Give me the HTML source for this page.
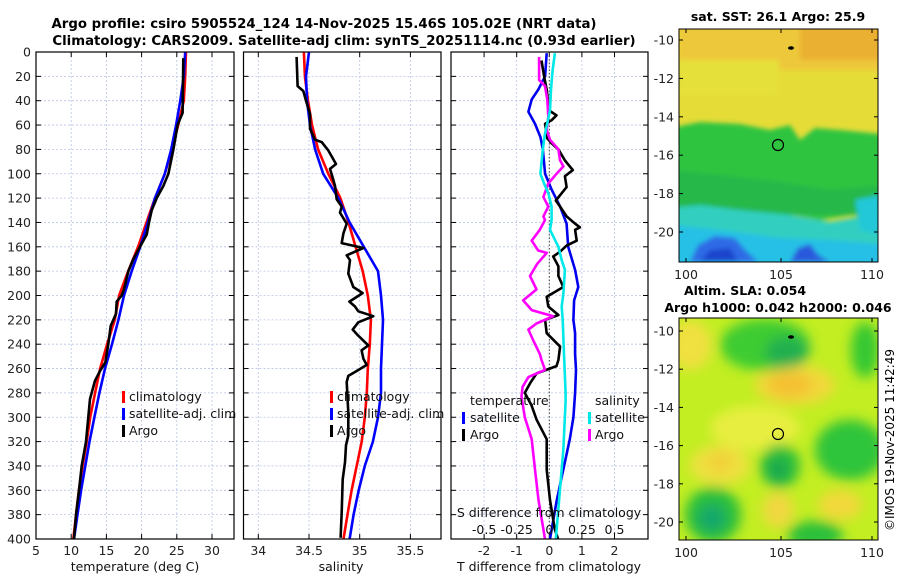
<!DOCTYPE html>
<html><head><meta charset="utf-8">
<style>
html,body{margin:0;padding:0;background:#fff;}
svg{display:block;font-family:"DejaVu Sans","Liberation Sans",sans-serif;}
</style></head>
<body>
<svg id="fig" width="900" height="580" viewBox="0 0 900 580" xmlns="http://www.w3.org/2000/svg">
<defs>
<filter id="blur6" x="-20%" y="-20%" width="140%" height="140%"><feGaussianBlur stdDeviation="6"/></filter>
<filter id="blur3" x="-20%" y="-20%" width="140%" height="140%"><feGaussianBlur stdDeviation="2.5"/></filter>
<clipPath id="clipTop"><rect x="679" y="29" width="199" height="233"/></clipPath>
<clipPath id="clipBot"><rect x="679" y="318" width="199" height="222"/></clipPath>
</defs>
<text x="324" y="28" text-anchor="middle" font-size="13.3" font-weight="bold">Argo profile: csiro 5905524_124 14-Nov-2025 15.46S 105.02E (NRT data)</text>
<text x="344" y="45" text-anchor="middle" font-size="13.3" font-weight="bold">Climatology: CARS2009. Satellite-adj clim: synTS_20251114.nc (0.93d earlier)</text>
<g id="plots"></g>
<g id="maps">
 <g clip-path="url(#clipTop)">
  <rect x="679" y="29" width="199" height="233" fill="#e6dc38"/>
  <g filter="url(#blur3)">
   <rect x="679" y="20" width="210" height="50" fill="#eec83a"/>
   <rect x="800" y="20" width="90" height="40" fill="#eab030"/>
   <rect x="679" y="60" width="100" height="35" fill="#e6e03a"/>
   <polygon points="670,128 700,122 740,124 770,130 790,125 800,140 815,128 840,130 890,135 890,205 870,212 820,220 780,212 740,205 670,200" fill="#2ec440"/>
   <polygon points="670,170 720,175 780,182 830,190 890,185 890,215 670,215" fill="#28b848"/>
   <polygon points="670,208 700,205 740,210 790,215 830,222 870,215 890,208 890,270 670,270" fill="#30cfc0"/>
   <polygon points="670,225 720,230 780,238 830,240 890,245 890,270 670,270" fill="#26c0e6"/>
   <polygon points="690,262 698,245 715,236 735,238 745,250 758,262" fill="#2d6ae6"/>
   <polygon points="700,262 710,250 730,248 738,262" fill="#1a44cc"/>
   <polygon points="790,262 798,248 810,244 818,255 830,262" fill="#2a58dc"/>
   <polygon points="855,200 880,195 880,235 860,230" fill="#22c8d8"/>
  </g>
  <ellipse cx="791" cy="48" rx="3" ry="1.8" fill="#000"/>
  <circle cx="778" cy="145" r="5.5" fill="none" stroke="#000" stroke-width="1.2"/>
 </g>
 <rect x="679" y="29" width="199" height="233" fill="none" stroke="#000" stroke-width="1"/>
 <g clip-path="url(#clipBot)">
  <rect x="679" y="318" width="199" height="222" fill="#c2ee22"/>
  <g filter="url(#blur6)">
   <ellipse cx="690" cy="345" rx="22" ry="25" fill="#f0e040"/>
   <ellipse cx="795" cy="385" rx="40" ry="20" fill="#f2d83a"/>
   <ellipse cx="790" cy="385" rx="22" ry="12" fill="#f4c030"/>
   <ellipse cx="755" cy="428" rx="45" ry="22" fill="#e8ee40"/>
   <ellipse cx="720" cy="465" rx="30" ry="20" fill="#eee040"/>
   <ellipse cx="720" cy="462" rx="12" ry="10" fill="#f2d038"/>
   <ellipse cx="778" cy="510" rx="16" ry="18" fill="#f0d840"/>
   <ellipse cx="840" cy="505" rx="22" ry="15" fill="#f2d83a"/>
   <ellipse cx="765" cy="345" rx="45" ry="26" fill="#3ccc30"/>
   <ellipse cx="787" cy="352" rx="22" ry="16" fill="#20b050"/>
   <ellipse cx="865" cy="350" rx="14" ry="28" fill="#36c832"/>
   <ellipse cx="850" cy="450" rx="35" ry="30" fill="#2fc43a"/>
   <ellipse cx="780" cy="466" rx="20" ry="22" fill="#2cbf3a"/>
   <ellipse cx="778" cy="470" rx="10" ry="12" fill="#1ea850"/>
   <ellipse cx="713" cy="515" rx="28" ry="28" fill="#2cbf3a"/>
   <ellipse cx="712" cy="518" rx="14" ry="14" fill="#18a86a"/>
   <ellipse cx="815" cy="535" rx="28" ry="14" fill="#2cbf3a"/>
  </g>
  <ellipse cx="791" cy="337" rx="3" ry="1.8" fill="#000"/>
  <circle cx="778" cy="434" r="5.5" fill="none" stroke="#000" stroke-width="1.2"/>
 </g>
 <rect x="679" y="318" width="199" height="222" fill="none" stroke="#000" stroke-width="1"/>
 <text x="778" y="21" text-anchor="middle" font-size="12.5" font-weight="bold">sat. SST: 26.1 Argo: 25.9</text>
 <text x="745" y="295" text-anchor="middle" font-size="12.5" font-weight="bold">Altim. SLA: 0.054</text>
 <text x="778" y="312" text-anchor="middle" font-size="12.5" font-weight="bold">Argo h1000: 0.042 h2000: 0.046</text>
 <text transform="translate(894,440) rotate(-90)" text-anchor="middle" font-size="12">©IMOS 19-Nov-2025 11:42:49</text>
</g>
</svg>
<script>
// ---- Temperature panel data ----
const climDepth = [0,20,40,60,80,100,120,140,160,180,200,220,240,260,280,300,320,340,360,380,400];
const tempClim = [26.3,26.2,26.0,25.2,24.3,23.3,21.9,20.7,19.5,18.1,16.8,16.2,15.1,14.1,13.4,12.7,12.2,11.6,11.1,10.7,10.3];
const tempSat  = [26.2,26.0,25.5,24.9,24.2,23.3,21.9,20.9,19.8,18.6,17.5,16.7,15.8,14.8,14.0,13.3,12.6,12.0,11.4,10.9,10.4];
const argoTDepth = [5,50,55,60,80,100,110,120,130,140,150,160,170,180,195,200,205,215,225,240,255,262,270,285,300,320,340,360,380,400];
const tempArgo   = [25.93,25.83,25.45,25.12,24.51,23.80,23.09,22.14,21.43,21.05,20.72,19.77,18.83,18.12,17.50,17.17,16.46,16.36,15.61,15.27,14.85,14.09,13.38,12.67,12.43,12.10,11.49,11.11,10.68,10.40];
const tempTicks = [5,10,15,20,25,30];
// ---- Salinity panel data ----
const salClim = [34.45,34.46,34.49,34.53,34.59,34.69,34.81,34.89,34.96,35.03,35.08,35.11,35.10,35.08,35.07,35.05,35.02,34.97,34.92,34.88,34.84];
const salSat  = [34.50,34.47,34.48,34.51,34.56,34.64,34.79,34.90,35.04,35.18,35.21,35.23,35.22,35.21,35.21,35.18,35.13,35.05,34.99,34.94,34.90];
const argoSDepth = [4,28,32,40,51,63,72,74,81,92,96,105,110,121,127,132,141,149,157,161,167,171,182,193,198,205,209,213,217,222,228,233,241,245,252,257,262,266,271,296,315,323,337,351,378,399];
const salArgo    = [34.378,34.388,34.444,34.470,34.510,34.510,34.559,34.625,34.691,34.766,34.707,34.740,34.756,34.773,34.822,34.806,34.872,34.839,34.822,35.036,34.872,34.904,34.888,34.937,35.029,34.898,34.954,34.986,35.134,34.986,34.931,34.986,35.085,35.019,35.036,35.069,34.970,34.888,34.872,34.888,34.888,34.865,34.855,34.832,34.822,34.812];
const salTicks = [34,34.5,35,35.5];
// ---- Difference panel data ----
const diffTicks = [-2,-1,0,1,2];
const sDiffTickLabels = ["-0.5","-0.25","0","0.25","0.5"];
const satTDepth = [1,20,31,39,49,59,70,80,100,113,127,141,160,179,193,204,220,231,248,261,280,300,318,343,368,400];
const satTDiff  = [-0.08,-0.13,-0.34,-0.54,-0.64,-0.44,-0.27,-0.20,-0.13,0.07,0.33,0.53,0.58,0.79,0.89,0.76,0.74,0.79,0.79,0.82,0.79,0.74,0.63,0.43,0.23,0.02];
const satSDepth = [1,15,31,48,67,80,100,108,116,127,138,146,160,171,179,198,209,220,248,280,287,327,368,400];
const satSDiff  = [0.043,0.025,0.013,0.005,-0.033,-0.050,-0.068,-0.040,-0.008,0.018,0.018,0.005,0.070,0.095,0.120,0.108,0.095,0.103,0.113,0.125,0.125,0.107,0.075,0.050];
const argoDTDepth = [7,20,31,48,52,56,59,71,75,80,89,97,102,111,116,122,127,135,141,144,146,155,159,164,168,176,184,193,201,209,216,220,231,242,253,258,264,272,280,290,302,318,343,368,392,400];
const argoTDiff   = [-0.24,-0.16,-0.08,-0.01,0.22,0.07,-0.13,-0.06,0.07,0.28,0.48,0.72,0.48,0.53,0.38,0.20,0.33,0.53,0.79,0.94,0.79,0.84,0.53,0.33,0.12,0.28,0.28,0.43,-0.08,-0.03,0.28,-0.13,-0.08,0.33,0.28,0.22,-0.39,-0.59,-0.75,-0.55,-0.39,-0.08,-0.08,0.02,0.17,0.27];
const argoDSDepth = [4,23,28,39,53,64,72,80,89,94,100,108,119,127,135,138,146,155,163,165,174,184,195,204,212,217,223,228,237,248,253,261,267,275,283,300,318,343,368,400];
const argoSDiff   = [-0.078,-0.078,-0.033,-0.015,-0.008,-0.020,0.005,0.070,0.083,0.108,0.055,-0.008,-0.045,-0.008,-0.045,-0.033,-0.073,-0.135,-0.085,-0.020,-0.093,-0.148,-0.098,-0.200,-0.135,0.030,-0.098,-0.160,-0.123,-0.073,-0.060,-0.033,-0.160,-0.205,-0.213,-0.188,-0.135,-0.110,-0.083,-0.033];
const depthTicks = [0,20,40,60,80,100,120,140,160,180,200,220,240,260,280,300,320,340,360,380,400];

const NS = "http://www.w3.org/2000/svg";
const root = document.getElementById('plots');
const Y0 = 52, Y1 = 539;
function yS(d){ return Y0 + d*(Y1-Y0)/400; }
function mk(tag, attrs, parent){
  const e = document.createElementNS(NS, tag);
  for (const k in attrs) e.setAttribute(k, attrs[k]);
  (parent||root).appendChild(e);
  return e;
}
function linScale(x0,x1,v0,v1){ return v => x0 + (v-v0)*(x1-x0)/(v1-v0); }

function drawPanel(name, x0, x1, xs, ticks, tickLabels, showYLabels){
  const g = mk('g', {});
  
  
  depthTicks.forEach(d => {
    const l = mk('line', {x1:x0, x2:x1, y1:yS(d), y2:yS(d), stroke:'#b8c4e4', 'stroke-width':0.8, 'stroke-dasharray':'2,2'}, g);
    
    
    mk('line', {x1:x0, x2:x0+5, y1:yS(d), y2:yS(d), stroke:'#000'}, g);
    mk('line', {x1:x1-5, x2:x1, y1:yS(d), y2:yS(d), stroke:'#000'}, g);
    if (showYLabels){
      const t = mk('text', {x:x0-5, y:yS(d)+4.5, 'text-anchor':'end', 'font-size':12.5, fill:'#222'}, g);
      t.textContent = d;
      
      
    }
  });
  ticks.forEach((v,i) => {
    const x = xs(v);
    const l = mk('line', {x1:x, x2:x, y1:Y0, y2:Y1, stroke:'#b8c4e4', 'stroke-width':0.8, 'stroke-dasharray':'2,2'}, g);
    
    
    mk('line', {x1:x, x2:x, y1:Y1-5, y2:Y1, stroke:'#000'}, g);
    mk('line', {x1:x, x2:x, y1:Y0, y2:Y0+5, stroke:'#000'}, g);
    const t = mk('text', {x:x, y:555, 'text-anchor':'middle', 'font-size':12.5, fill:'#222'}, g);
    t.textContent = tickLabels[i];
    
    
  });
  return g;
}
function line(g, name, xs, vals, depths, color, w){
  const pts = vals.map((v,i) => xs(v).toFixed(1) + ',' + yS(depths[i]).toFixed(1)).join(' ');
  const p = mk('polyline', {points:pts, fill:'none', stroke:color, 'stroke-width':w||2.6, 'stroke-linejoin':'round'}, g);
  
  
}
function border(g, x0, x1){
  mk('rect', {x:x0, y:Y0, width:x1-x0, height:Y1-Y0, fill:'none', stroke:'#000', 'stroke-width':1.2}, g);
}
function label(g, name, x, y, txt, anchor, size){
  const t = mk('text', {x:x, y:y, 'text-anchor':anchor||'start', 'font-size':size||12.5, fill:'#111'}, g);
  t.textContent = txt;
  
  
}
function marker(g, name, x, y, color){
  const r = mk('rect', {x:x, y:y-6, width:3, height:12, fill:color}, g);
  
  
}

// Panel 1: temperature
const xT = linScale(36, 234, 5, 5 + 198/7.04);
const g1 = drawPanel('temperature', 36, 234, xT, tempTicks, tempTicks, true);
line(g1, 'temp-climatology-line', xT, tempClim, climDepth, '#ff0000');
line(g1, 'temp-satellite-line', xT, tempSat, climDepth, '#0000ff');
line(g1, 'temp-argo-line', xT, tempArgo, argoTDepth, '#000000');
border(g1, 36, 234);
label(g1, 'temp-x-axis-title', 135, 571, 'temperature (deg C)', 'middle');
[['climatology','#ff0000',401],['satellite-adj. clim','#0000ff',418],['Argo','#000',435]].forEach(a => {
  marker(g1, 'legend-marker', 122, a[2]-4, a[1]);
  label(g1, 'legend-entry', 129, a[2], a[0]);
});

// Panel 2: salinity
const xSal = linScale(258.3, 359.7, 34, 35);
const g2 = drawPanel('salinity', 243.5, 441, xSal, salTicks, salTicks, false);
line(g2, 'sal-climatology-line', xSal, salClim, climDepth, '#ff0000');
line(g2, 'sal-satellite-line', xSal, salSat, climDepth, '#0000ff');
line(g2, 'sal-argo-line', xSal, salArgo, argoSDepth, '#000000');
border(g2, 243.5, 441);
label(g2, 'sal-x-axis-title', 341, 571, 'salinity', 'middle');
[['climatology','#ff0000',401],['satellite-adj. clim','#0000ff',418],['Argo','#000',435]].forEach(a => {
  marker(g2, 'legend-marker', 330, a[2]-4, a[1]);
  label(g2, 'legend-entry', 337, a[2], a[0]);
});

// Panel 3: differences
const xD = linScale(549.3, 581.9, 0, 1);
const xSD = v => xD(v*4);
const g3 = drawPanel('difference', 451, 648, xD, diffTicks, diffTicks, false);
const z = mk('line', {x1:xD(0), x2:xD(0), y1:Y0, y2:Y1, stroke:'#444', 'stroke-width':1, 'stroke-dasharray':'1.5,2'}, g3);


line(g3, 'sat-t-diff-line', xD, satTDiff, satTDepth, '#0000ee');
line(g3, 'argo-t-diff-line', xD, argoTDiff, argoDTDepth, '#000000');
line(g3, 'argo-s-diff-line', xSD, argoSDiff, argoDSDepth, '#ff00ff');
line(g3, 'sat-s-diff-line', xSD, satSDiff, satSDepth, '#00e8e8');
border(g3, 451, 648);
label(g3, 'temperature-legend-title', 470, 405, 'temperature');
marker(g3, 'legend-marker', 462, 418, '#0000ff');
label(g3, 'legend-entry', 470, 422, 'satellite');
marker(g3, 'legend-marker', 462, 435, '#000');
label(g3, 'legend-entry', 470, 439, 'Argo');
label(g3, 'salinity-legend-title', 595, 405, 'salinity');
marker(g3, 'legend-marker', 588, 418, '#00e8e8');
label(g3, 'legend-entry', 595, 422, 'satellite');
marker(g3, 'legend-marker', 588, 435, '#ff00ff');
label(g3, 'legend-entry', 595, 439, 'Argo');
label(g3, 'S-diff-axis-title', 549, 517, 'S difference from climatology', 'middle', 12.5);
diffTicks.forEach((v,i) => label(g3, 'S-diff-tick-label', xD(v), 534, sDiffTickLabels[i], 'middle', 12.5));
label(g3, 'T-diff-axis-title', 549, 571, 'T difference from climatology', 'middle');

// map ticks
const maps = document.getElementById('maps');
function mapTicks(top, bot, lat10y, lat20y){
  [100,105,110].forEach((lon,i) => {
    const x = [686,781,872][i];
    mk('line', {x1:x,x2:x,y1:bot-4,y2:bot,stroke:'#000'}, maps);
    mk('line', {x1:x,x2:x,y1:top,y2:top+4,stroke:'#000'}, maps);
    const t = mk('text', {x:x, y:bot+17, 'text-anchor':'middle', 'font-size':12.5, fill:'#222'}, maps);
    t.textContent = lon;
    
    
  });
  [-10,-12,-14,-16,-18,-20].forEach(lat => {
    const y = lat10y + (lat+10)/(-10)*(lat20y-lat10y);
    mk('line', {x1:679,x2:683,y1:y,y2:y,stroke:'#000'}, maps);
    mk('line', {x1:874,x2:878,y1:y,y2:y,stroke:'#000'}, maps);
    const t = mk('text', {x:674, y:y+4.5, 'text-anchor':'end', 'font-size':12.5, fill:'#222'}, maps);
    t.textContent = lat;
    
    
  });
}
mapTicks(29, 262, 40, 232);
mapTicks(318, 540, 331, 522);
</script>
</body></html>
